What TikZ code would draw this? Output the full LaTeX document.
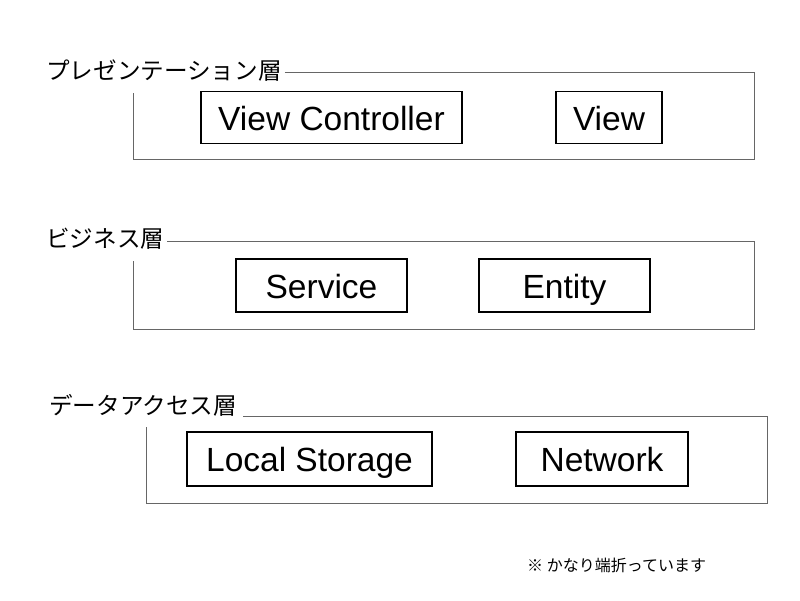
\documentclass[tikz,border=0pt]{standalone}
\usepackage{fontspec}
\setmainfont{Noto Sans CJK JP}
\newfontfamily\latinsans{Liberation Sans}
\begin{document}
\begin{tikzpicture}[x=1pt,y=-1pt,
  comp/.style={draw=black,line width=1.4pt,font=\latinsans\fontsize{33.5}{35}\selectfont,inner sep=0pt,text height=25pt,text depth=0pt,minimum height=52pt},
  layerlabel/.style={anchor=west,inner sep=0pt,font=\fontsize{23.6}{25}\selectfont},
  frame/.style={draw=black!60,line width=0.9pt}]
\useasboundingbox (0,0) rectangle (800,600);
\fill[white] (0,0) rectangle (800,600);
% layer 1
\node[layerlabel] (l1) at (46,71) {プレゼンテーション層};
\coordinate (f1a) at (754,72); \coordinate (f1b) at (754,159);
\coordinate (f1c) at (133,159); \coordinate (f1d) at (133,93);
\draw[frame] ([xshift=3pt]l1.east |- f1a) -- (f1a) -- (f1b) -- (f1c) -- (f1d);
\node[comp,minimum width=261pt] (vc) at (331.5,117.5) {View Controller};
\node[comp,minimum width=106pt] (v) at (609,117.5) {View};
% layer 2
\node[layerlabel] (l2) at (46,239) {ビジネス層};
\coordinate (f2a) at (754,241); \coordinate (f2b) at (754,329);
\coordinate (f2c) at (133,329); \coordinate (f2d) at (133,261);
\draw[frame] ([xshift=3pt]l2.east |- f2a) -- (f2a) -- (f2b) -- (f2c) -- (f2d);
\node[comp,minimum width=171pt,minimum height=53pt] (s) at (321.5,285.5) {Service};
\node[comp,minimum width=171pt,minimum height=53pt] (e) at (564.5,285.5) {Entity};
% layer 3
\node[layerlabel] (l3) at (49,405) {データアクセス層};
\coordinate (f3a) at (767,416); \coordinate (f3b) at (767,503);
\coordinate (f3c) at (146,503); \coordinate (f3d) at (146,427);
\draw[frame] ([xshift=6pt]l3.east |- f3a) -- (f3a) -- (f3b) -- (f3c) -- (f3d);
\node[comp,minimum width=245pt,minimum height=54pt] (ls) at (309.5,459) {Local Storage};
\node[comp,minimum width=172pt,minimum height=54pt] (n) at (602,459) {Network};
% note
\node[anchor=west,inner sep=0pt,font=\fontsize{16}{18}\selectfont] (note) at (527,565) {※ かなり端折っています};
\end{tikzpicture}
\end{document}
